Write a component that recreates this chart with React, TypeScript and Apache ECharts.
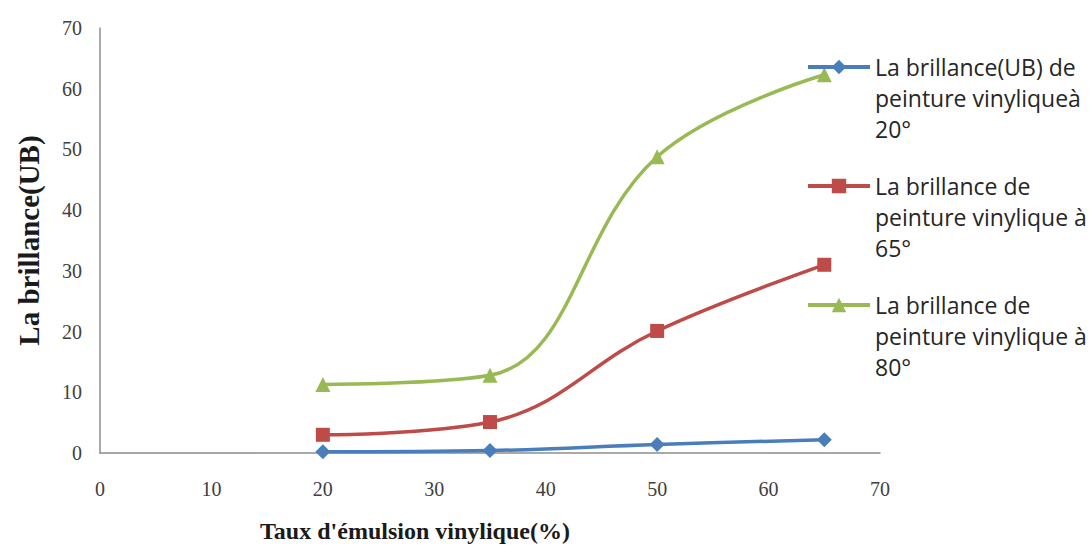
import React, { useEffect, useRef } from "react";
import * as echarts from "echarts";

const xValues = [20, 35, 50, 65];
const series20 = [0.2, 0.4, 1.4, 2.2];
const series65 = [3.0, 5.1, 20.1, 31.0];
const series80 = [11.3, 12.8, 48.8, 62.3];

const seriesNames = [
  "La brillance(UB) de\npeinture vinyliqueà\n20°",
  "La brillance de\npeinture vinylique à\n65°",
  "La brillance de\npeinture vinylique à\n80°",
];
const seriesColors = ["#4A7EBB", "#BE4B48", "#98B954"];
const seriesSymbols = ["diamond", "rect", "triangle"];
const seriesSizes = [15, 14, 15];

const xTitle = "Taux d'émulsion vinylique(%)";
const yTitle = "La brillance(UB)";

const LINE_H = 31;
const legendIconY = [67, 186, 305];

export default function App() {
  const ref = useRef<HTMLDivElement>(null);
  useEffect(() => {
    if (!ref.current) return;
    const chart = echarts.init(ref.current, null, { renderer: "svg" });
    const allData = [series20, series65, series80];
    chart.setOption({
      animation: false,
      backgroundColor: "#ffffff",
      grid: { left: 100, right: 212, top: 28, bottom: 99 },
      legend: seriesNames.map((name, i) => ({
        orient: "vertical",
        left: 806,
        top: legendIconY[i] - (LINE_H * 5) / 2,
        itemWidth: 62,
        itemHeight: 18,
        padding: 0,
        lineStyle: { width: 4 },
        formatter: (n: string) => "\n\n" + n,
        textStyle: {
          fontFamily: "Open Sans",
          fontSize: 23,
          color: "#262626",
          lineHeight: LINE_H,
        },
        data: [name],
      })),
      xAxis: {
        type: "value",
        min: 0,
        max: 70,
        interval: 10,
        name: xTitle,
        nameLocation: "middle",
        nameGap: 66,
        nameTextStyle: {
          fontFamily: "Liberation Serif",
          fontWeight: "bold",
          fontSize: 24,
          color: "#1a1a1a",
          padding: [0, 150, 0, 0],
        },
        axisLine: { lineStyle: { color: "#8c8c8c", width: 1.5 } },
        axisTick: { show: false },
        splitLine: { show: false },
        axisLabel: {
          fontFamily: "Liberation Serif",
          fontSize: 20,
          color: "#404040",
          margin: 26,
        },
      },
      yAxis: {
        type: "value",
        min: 0,
        max: 70,
        interval: 10,
        name: yTitle,
        nameLocation: "middle",
        nameGap: 57,
        nameTextStyle: {
          fontFamily: "Liberation Serif",
          fontWeight: "bold",
          fontSize: 29,
          color: "#1a1a1a",
        },
        axisLine: { show: true, lineStyle: { color: "#8c8c8c", width: 1.5 } },
        axisTick: { show: false },
        splitLine: { show: false },
        axisLabel: {
          fontFamily: "Liberation Serif",
          fontSize: 20,
          color: "#404040",
          margin: 18,
        },
      },
      series: seriesNames.map((name, i) => ({
        name,
        type: "line",
        smooth: 0.4,
        symbol: seriesSymbols[i],
        symbolSize: seriesSizes[i],
        lineStyle: { color: seriesColors[i], width: 3.5 },
        itemStyle: { color: seriesColors[i] },
        data: xValues.map((x, j) => [x, allData[i][j]]),
      })),
    });
    return () => chart.dispose();
  }, []);
  return (
    <div
      ref={ref}
      style={{ position: "fixed", left: 0, top: 0, width: 1092, height: 552 }}
    />
  );
}
